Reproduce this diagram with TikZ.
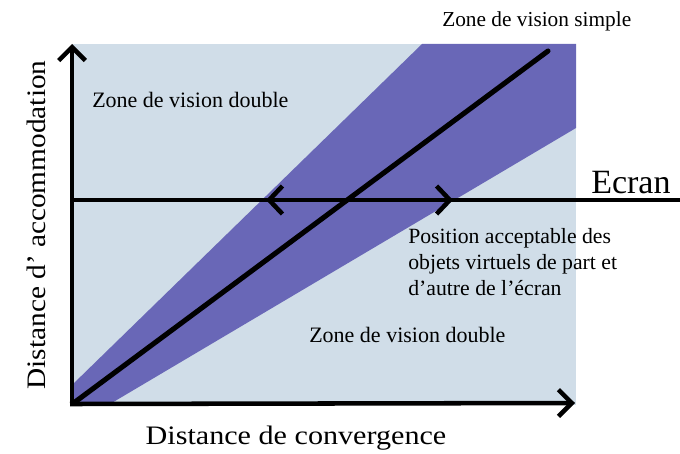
\documentclass[tikz,border=0pt]{standalone}
\usepackage{fontspec}
\setmainfont{Liberation Serif}
\usetikzlibrary{arrows.meta}
\definecolor{bgblue}{HTML}{D0DDE8}
\definecolor{band}{HTML}{6967B7}
\tikzset{
  axisline/.style={line width=3.4pt, -{Straight Barb[length=10pt,width=20pt,line width=3.4pt]}},
  thickline/.style={line width=3.8pt, line cap=round},
  ecranline/.style={line width=3pt},
  dblarrow/.style={line width=3.4pt, {Straight Barb[length=10pt,width=21pt,line width=3.4pt]}-{Straight Barb[length=10pt,width=21pt,line width=3.4pt]}},
  lbl/.style={inner sep=0pt, anchor=base west, font=\fontsize{16.5}{19}\selectfont},
}
\begin{document}
\begin{tikzpicture}[x=0.75pt,y=-0.75pt]
\useasboundingbox (0,0) rectangle (680,453);
% background area
\fill[bgblue] (72,44) rectangle (576,405);
% band
\fill[band] (72,385) -- (422,44) -- (576,44) -- (576,128) -- (110,404) -- (72,404) -- cycle;
% named points
\coordinate (O) at (72,404);
\coordinate (Ytop) at (72,44);
\coordinate (Xend) at (575,403);
\coordinate (Dstart) at (75,402);
\coordinate (Dend) at (548,51);
\coordinate (Eleft) at (72,200);
\coordinate (Eright) at (680,200);
\coordinate (Aleft) at (266,200);
\coordinate (Aright) at (453,200);
% diagonal
\draw[thickline] (Dstart) -- (Dend);
% screen line
\draw[ecranline] (Eleft) -- (Eright);
\draw[dblarrow] (Aleft) -- (Aright);
% axes
\draw[axisline] ([yshift=-1.5pt]O) -- (Ytop);
\draw[axisline] ([xshift=-1.5pt]O) -- (Xend);
% texts
\node[lbl] (zdh) at (92,107) {Zone de vision double};
\node[lbl] (zdb) at (309,342) {Zone de vision double};
\node[inner sep=0pt, anchor=base west, font=\fontsize{16}{19}\selectfont] (zs) at (442,27) {Zone de vision simple};
\node[inner sep=0pt, anchor=base west, font=\fontsize{25.5}{30}\selectfont] (ecran) at (591,193) {Ecran};
\node[inner sep=0pt, anchor=north west, align=left, font=\fontsize{16.3}{19.5}\selectfont] (pos) at (408,228)
  {Position acceptable des\\objets virtuels de part et\\d’autre de l’écran};
\node[inner sep=0pt, anchor=base, font=\fontsize{20}{24}\selectfont] (xl) at (296,444) {\scalebox{1.13}[1]{Distance de convergence}};
\node[inner sep=0pt, anchor=base, rotate=90, font=\fontsize{20}{24}\selectfont] (yl) at (45,225) {\scalebox{1.1}[1]{Distance d’ accommodation}};
\end{tikzpicture}
\end{document}
